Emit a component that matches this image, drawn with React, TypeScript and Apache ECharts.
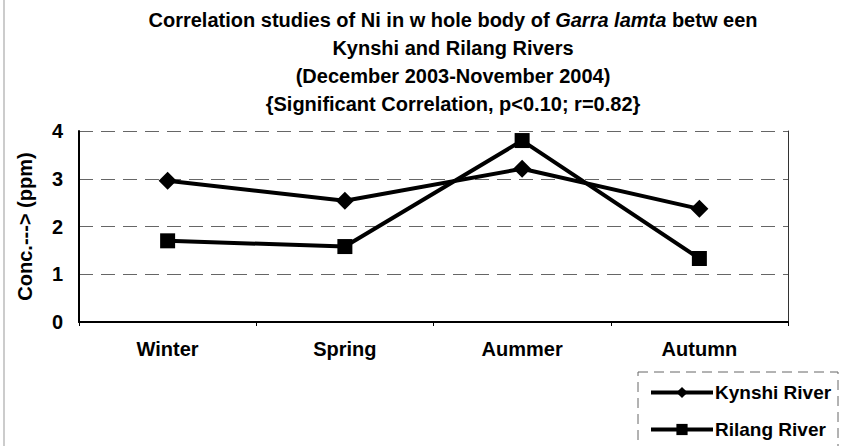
import React, { useEffect, useRef } from "react";
import * as echarts from "echarts";

const categories = ["Winter", "Spring", "Aummer", "Autumn"];
const kynshi = [2.96, 2.54, 3.21, 2.37];
const rilang = [1.7, 1.58, 3.8, 1.33];
const yTicks = [0, 1, 2, 3, 4];
const seriesNames = ["Kynshi River", "Rilang River"];

const FONT = "Liberation Sans";

export default function App() {
  const ref = useRef<HTMLDivElement>(null);
  useEffect(() => {
    if (!ref.current) return;
    const chart = echarts.init(ref.current, null, { renderer: "svg" });
    const legendBase = {
      orient: "vertical",
      left: 644,
      itemWidth: 62,
      itemHeight: 14,
      itemGap: 10,
      lineStyle: { width: 4, color: "#000" },
      textStyle: { fontFamily: FONT, fontSize: 19, fontWeight: "bold", color: "#000", padding: [0, 0, 0, -3] },
    };
    chart.setOption({
      animation: false,
      backgroundColor: "#ffffff",
      title: {
        text:
          "Correlation studies of Ni in w hole body of {i|Garra lamta} betw een\nKynshi and Rilang Rivers\n(December 2003-November 2004)\n{Significant Correlation, p<0.10; r=0.82}",
        left: 448,
        top: 1,
        textAlign: "center",
        textStyle: {
          fontFamily: FONT,
          fontSize: 20,
          fontWeight: "bold",
          color: "#000",
          lineHeight: 28,
          rich: {
            i: { fontFamily: FONT, fontSize: 20, fontWeight: "bold", fontStyle: "italic", color: "#000", lineHeight: 28 },
          },
        },
      },
      grid: { left: 79, right: 54, top: 131, bottom: 124 },
      legend: [
        { ...legendBase, top: 378, data: [seriesNames[0]] },
        { ...legendBase, top: 415, data: [seriesNames[1]] },
      ],
      xAxis: {
        type: "category",
        data: categories,
        boundaryGap: true,
        axisLine: { lineStyle: { color: "#000", width: 2 } },
        axisTick: { show: true, length: 4, lineStyle: { color: "#000" } },
        axisLabel: { fontFamily: FONT, fontSize: 20, fontWeight: "bold", color: "#000", margin: 17 },
        splitLine: { show: false },
      },
      yAxis: [
        {
          type: "value",
          min: yTicks[0],
          max: yTicks[yTicks.length - 1],
          interval: 1,
          name: "Conc.---> (ppm)",
          nameLocation: "middle",
          nameGap: 44,
          nameTextStyle: { fontFamily: FONT, fontSize: 20, fontWeight: "bold", color: "#000" },
          axisLine: { show: true, lineStyle: { color: "#000", width: 2 } },
          axisTick: { show: false },
          axisLabel: { fontFamily: FONT, fontSize: 20, fontWeight: "bold", color: "#000", margin: 16 },
          splitLine: { show: true, lineStyle: { color: "#666", width: 1, type: [14, 8] } },
        },
        {
          type: "value",
          min: yTicks[0],
          max: yTicks[yTicks.length - 1],
          interval: 1,
          position: "right",
          axisLine: { show: true, lineStyle: { color: "#333", width: 1 } },
          axisTick: { show: false },
          axisLabel: { show: false },
          splitLine: { show: false },
        },
      ],
      series: [
        {
          name: seriesNames[0],
          type: "line",
          data: kynshi,
          symbol: "diamond",
          symbolSize: 18,
          lineStyle: { color: "#000", width: 4 },
          itemStyle: { color: "#000" },
        },
        {
          name: seriesNames[1],
          type: "line",
          data: rilang,
          symbol: "rect",
          symbolSize: 15,
          lineStyle: { color: "#000", width: 4 },
          itemStyle: { color: "#000" },
        },
      ],
      graphic: [
        {
          type: "line",
          shape: { x1: 4, y1: 0, x2: 4, y2: 446 },
          style: { stroke: "#999", lineWidth: 1 },
        },
        {
          type: "rect",
          shape: { x: 638, y: 372, width: 200, height: 90 },
          style: { fill: "none", stroke: "#666", lineWidth: 1, lineDash: [10, 6] },
        },
      ],
    });
    return () => chart.dispose();
  }, []);
  return <div ref={ref} style={{ width: 842, height: 446, position: "absolute", left: 0, top: 0 }} />;
}
